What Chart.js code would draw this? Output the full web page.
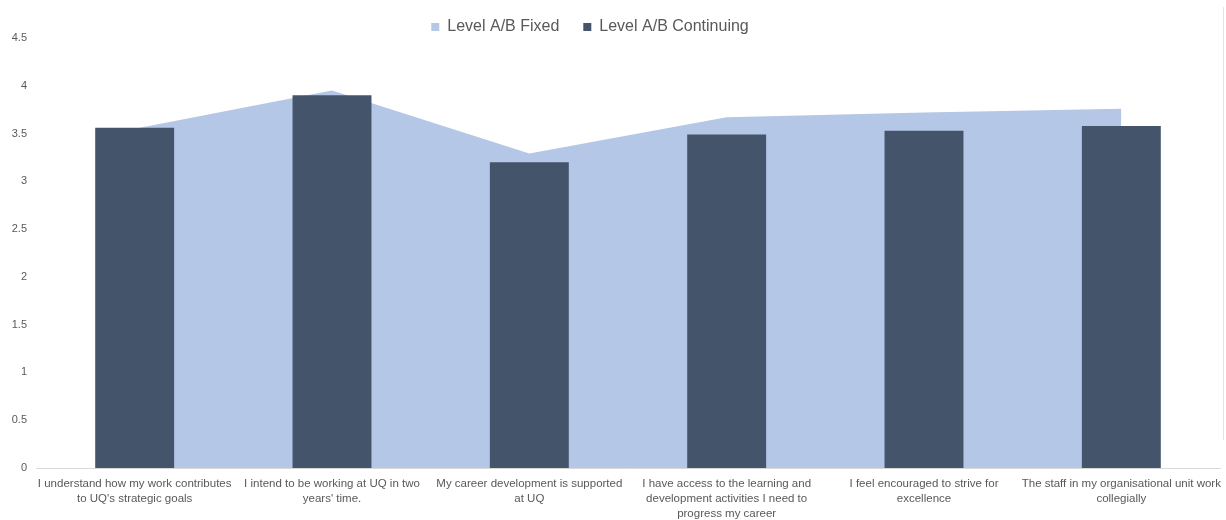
<!DOCTYPE html>
<html>
<head>
<meta charset="utf-8">
<title>Level A/B Fixed vs Continuing</title>
<script src="https://cdn.jsdelivr.net/npm/chart.js@4/dist/chart.umd.min.js"></script>
<style>
  html, body { margin: 0; padding: 0; background: #ffffff; }
  #wrap { position: relative; width: 1226px; height: 520px; }
  #edge { position: absolute; left: 1223px; top: 7px; width: 1px; height: 433px; background: #e4e4e4; }
</style>
</head>
<body>
<div id="wrap">
  <canvas id="chart" width="1226" height="520"></canvas>
  <div id="edge"></div>
</div>
<script>
// Survey statements (wrapped onto lines for the axis)
const categories = [
  ["I understand how my work contributes", "to UQ's strategic goals"],
  ["I intend to be working at UQ in two", "years' time."],
  ["My career development is supported", "at UQ"],
  ["I have access to the learning and", "development activities I need to", "progress my career"],
  ["I feel encouraged to strive for", "excellence"],
  ["The staff in my organisational unit work", "collegially"]
];

// Mean scores per group
const fixedScores = [3.55, 3.95, 3.29, 3.67, 3.72, 3.76];
const continuingScores = [3.56, 3.90, 3.20, 3.49, 3.53, 3.58];

// Value axis
const yMin = 0;
const yMax = 4.5;
const yStep = 0.5;

const seriesNames = ["Level A/B Fixed", "Level A/B Continuing"];

const FONT = "'Liberation Sans', Arial, sans-serif";
const TEXT_COLOR = "#595959";

// Nudges the legend block so it sits slightly left of centre and higher up
const legendShift = {
  id: "legendShift",
  afterLayout(chart) {
    const lg = chart.legend;
    if (!lg) return;
    const dx = -20, dy = -5;
    lg.left += dx; lg.right += dx;
    lg.top += dy;
  }
};

new Chart(document.getElementById("chart"), {
  type: "bar",
  data: {
    labels: categories,
    datasets: [
      {
        type: "line",
        label: seriesNames[0],
        data: fixedScores,
        backgroundColor: "#B4C7E7",
        borderColor: "#B4C7E7",
        borderWidth: 0,
        pointRadius: 0,
        pointHoverRadius: 0,
        tension: 0,
        fill: "origin",
        order: 2
      },
      {
        type: "bar",
        label: seriesNames[1],
        data: continuingScores,
        backgroundColor: "#44546A",
        borderWidth: 0,
        barPercentage: 0.4,
        categoryPercentage: 1.0,
        order: 1
      }
    ]
  },
  options: {
    responsive: false,
    animation: false,
    devicePixelRatio: 1,
    layout: { padding: { left: 0, right: 6, top: 0, bottom: 0 } },
    plugins: {
      tooltip: { enabled: false },
      legend: {
        position: "top",
        align: "center",
        maxHeight: 38,
        labels: {
          boxWidth: 8,
          boxHeight: 8,
          padding: 24,
          color: TEXT_COLOR,
          font: { family: FONT, size: 16 },
          sort: (a, b) => a.datasetIndex - b.datasetIndex
        }
      }
    },
    scales: {
      x: {
        offset: true,
        grid: { display: false, drawTicks: false },
        border: { display: true, color: "#d9d9d9", width: 1 },
        afterFit(scale) {
          scale.height = 52;
          scale.paddingLeft = 0;
          scale.paddingRight = 0;
        },
        ticks: {
          color: TEXT_COLOR,
          font: { family: FONT, size: 11.5, lineHeight: 1.3 },
          padding: 8,
          maxRotation: 0,
          minRotation: 0,
          autoSkip: false
        }
      },
      y: {
        min: yMin,
        max: yMax,
        grid: { display: false, drawTicks: false },
        border: { display: false },
        afterFit(scale) { scale.width = 36; },
        ticks: {
          stepSize: yStep,
          color: TEXT_COLOR,
          font: { family: FONT, size: 11 },
          padding: 9,
          callback: (v) => String(Math.round(v * 10) / 10)
        }
      }
    }
  },
  plugins: [legendShift]
});
</script>
</body>
</html>
